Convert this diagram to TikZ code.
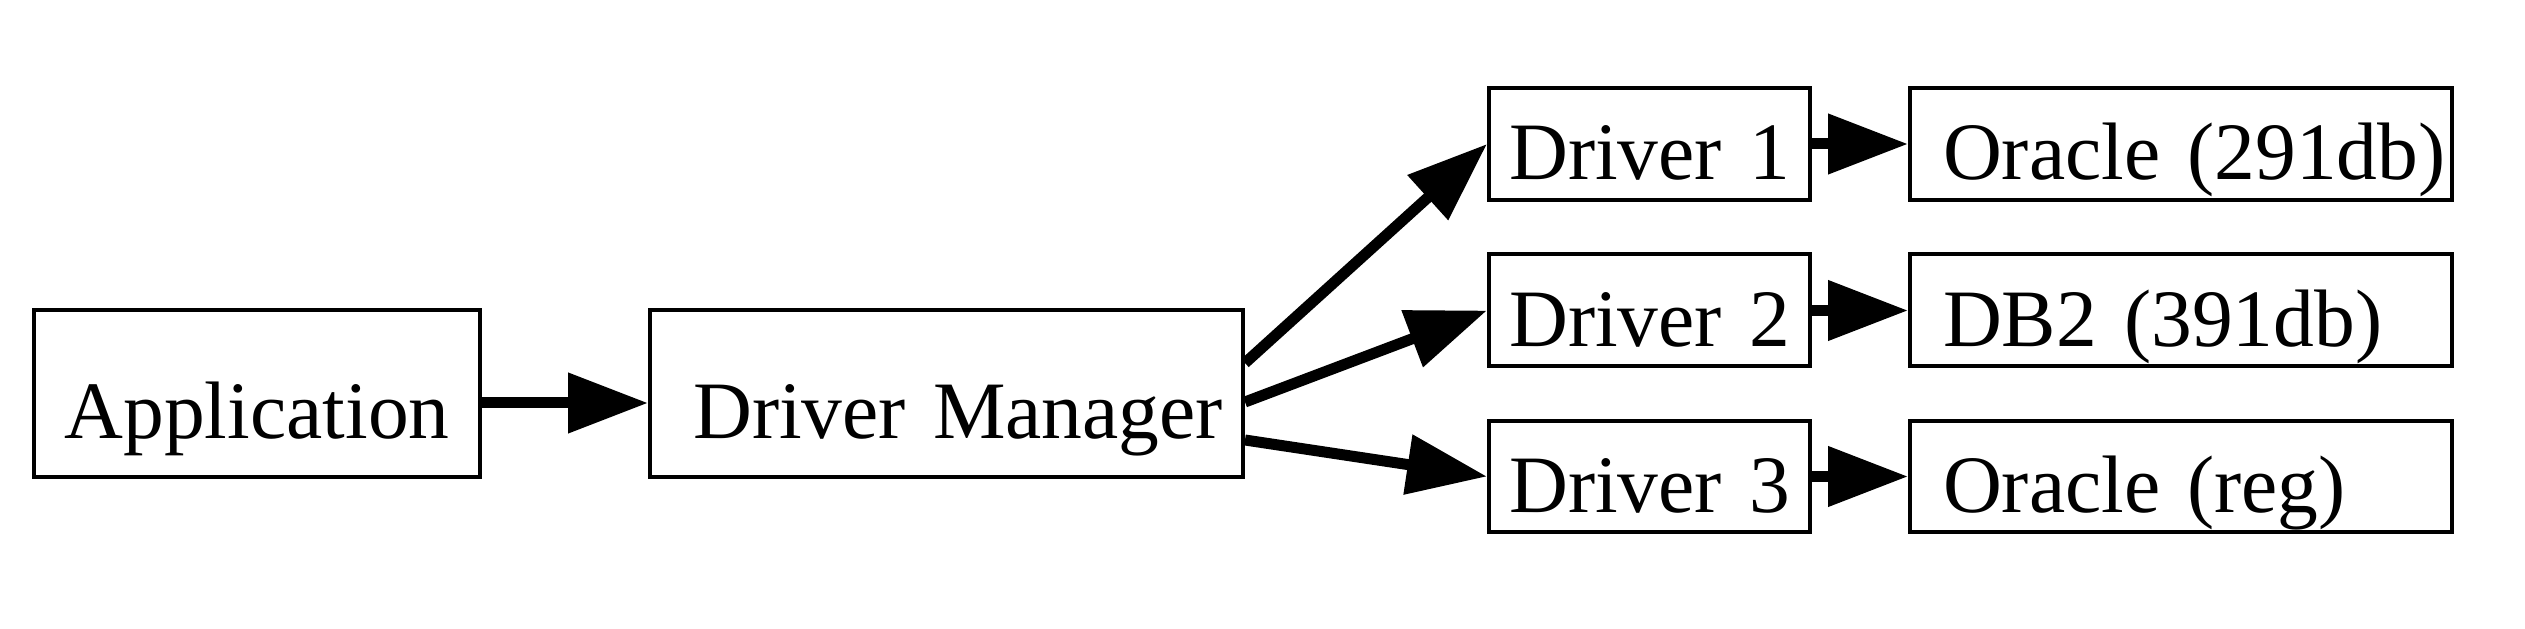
\documentclass[tikz,border=0pt]{standalone}
\usepackage{fontspec}
\setmainfont{Liberation Serif}
\usetikzlibrary{arrows.meta,calc}

\begin{document}
\begin{tikzpicture}[x=0.1mm,y=-0.1mm,every node/.style={black},
	box/.style={draw,line width=0.4mm,inner sep=0pt,font=\fontsize{23.2pt}{28pt}\selectfont},
	tall/.style={text height=12.9mm,text depth=3.8mm},
	short/.style={text height=9.2mm,text depth=2mm},
	dbbox/.style={box,short,text width=54.2mm,align=left},
	link/.style={line width=1.1mm,-{Triangle[length=8mm,width=5.8mm]}}]
	\useasboundingbox (0,0) rectangle (2525,629);

	\node[box,tall,text width=44.6mm,align=center] (app) at (257,393.5) {Application};
	\node[box,tall,inner xsep=2mm,text width=55.3mm,align=right] (dm) at (946.5,393.5) {Driver Manager};

	\node[box,short,text width=32.1mm,align=center] (d1) at (1649.5,144) {Driver 1};
	\node[box,short,text width=32.1mm,align=center] (d2) at (1649.5,310.5) {Driver 2};
	\node[box,short,text width=32.1mm,align=center] (d3) at (1649.5,476.5) {Driver 3};

	\node[dbbox] (o1) at (2181,144) {\hspace*{3.3mm}Oracle (291db)};
	\node[dbbox] (o2) at (2181,310.5) {\hspace*{3.3mm}DB2 (391db)};
	\node[dbbox] (o3) at (2181,476.5) {\hspace*{3.3mm}Oracle (reg)};

	\draw[link] ($(app.east)+(0,9.5)$) -- ($(dm.west)+(0,9.5)$);
	\draw[link] ($(dm.east)+(0,-30.5)$) -- (d1.west);
	\draw[link] ($(dm.east)+(0,8.5)$) -- (d2.west);
	\draw[link] ($(dm.east)+(0,46.5)$) -- (d3.west);
	\foreach \i in {1,2,3}
		\draw[link] (d\i.east) -- (o\i.west);
\end{tikzpicture}
\end{document}
